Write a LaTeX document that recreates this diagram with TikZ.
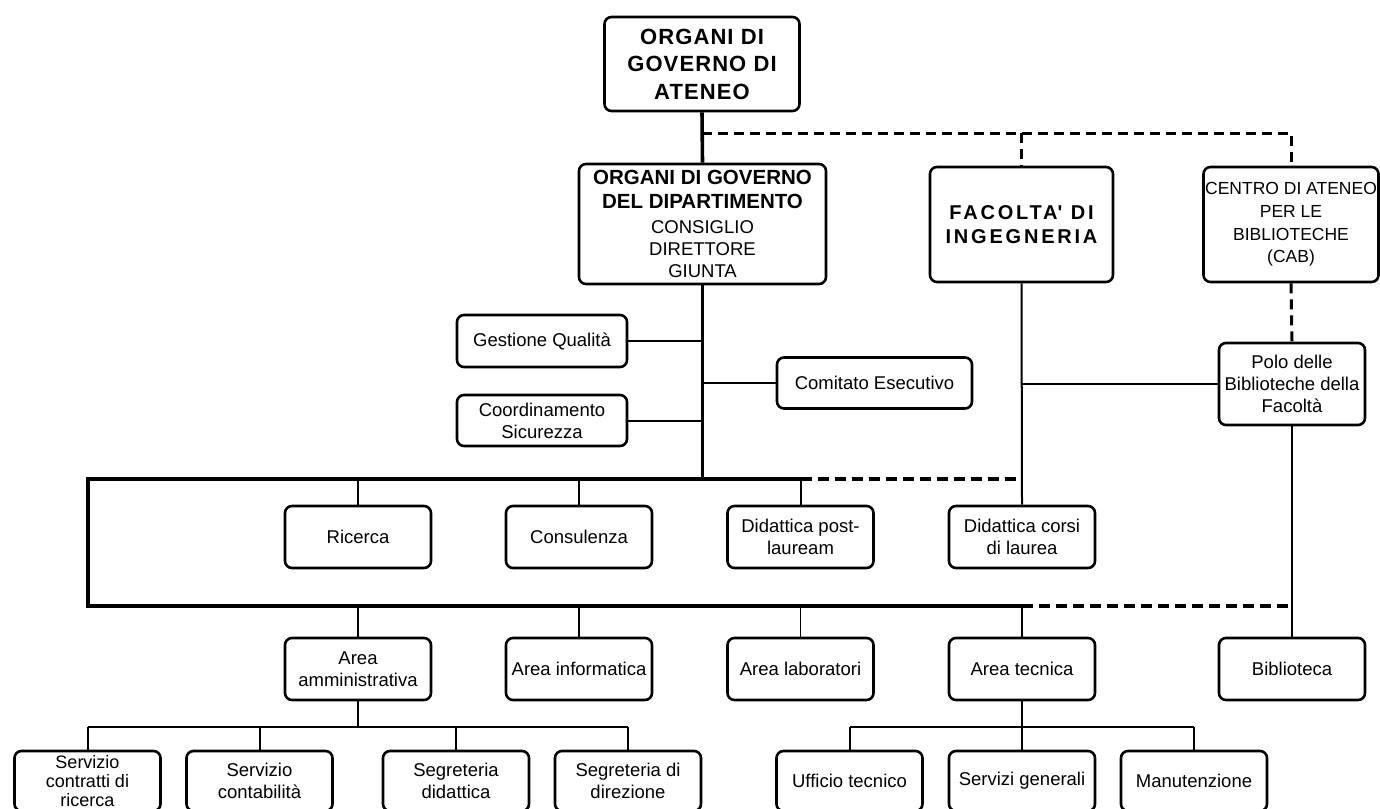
\documentclass[tikz,border=0pt]{standalone}
\usepackage{fontspec}
\setmainfont{Liberation Sans}
\newfontfamily\spacedA[LetterSpace=5]{Liberation Sans}
\newfontfamily\spacedB[LetterSpace=14]{Liberation Sans}
\begin{document}
\begin{tikzpicture}[x=1pt,y=-1pt,
  box/.style={draw, line width=2.6pt, rounded corners=7pt, align=center, inner sep=0pt,
              font=\fontsize{18.5}{22}\selectfont},
  small/.style={box, minimum width=146pt, minimum height=62pt},
  leaf/.style={box, minimum width=146pt, minimum height=60pt},
  conn/.style={line width=2pt},
  trunk/.style={line width=3.6pt},
  railline/.style={line width=4pt, line join=miter},
  dashline/.style={line width=3pt, dash pattern=on 10pt off 6pt},
  raildash/.style={line width=4pt, dash pattern=on 11pt off 6pt},
]
\useasboundingbox (0,0) rectangle (1380,808);
\fill[white] (0,0) rectangle (1380,808);
\clip (0,0) rectangle (1380,808);

% top level
\node[box, minimum width=195pt, minimum height=94pt,
      font=\spacedA\bfseries\fontsize{22}{27.5}\selectfont] (ateneo) at (702,64)
      {ORGANI DI\\GOVERNO DI\\ATENEO};
\node[box, minimum width=247pt, minimum height=120pt] (dip) at (702.5,224)
      {{\bfseries\fontsize{20.5}{24}\selectfont ORGANI DI GOVERNO}\\[2pt]
       {\bfseries\fontsize{20.5}{24}\selectfont DEL DIPARTIMENTO}\\[3pt]
       CONSIGLIO\\DIRETTORE\\GIUNTA};
\node[box, minimum width=183pt, minimum height=115pt,
      font=\spacedB\bfseries\fontsize{20}{24}\selectfont] (fac) at (1021.5,224.5)
      {FACOLTA\textquotesingle{} DI\\INGEGNERIA};
\node[box, minimum width=175pt, minimum height=115pt,
      font=\fontsize{17.5}{22.6}\selectfont] (cab) at (1291,224.5)
      {CENTRO DI ATENEO\\PER LE\\BIBLIOTECHE\\(CAB)};

% staff boxes
\node[box, minimum width=170pt, minimum height=52pt] (gq) at (542,341) {Gestione Qualità};
\node[box, minimum width=170pt, minimum height=51pt] (cs) at (542,420.5) {Coordinamento\\Sicurezza};
\node[box, minimum width=195pt, minimum height=51pt] (ce) at (874.5,383) {Comitato Esecutivo};
\node[box, minimum width=146pt, minimum height=82pt] (polo) at (1292,384)
      {Polo delle\\Biblioteche della\\Facoltà};

% activities
\node[small] (ric)  at (358,537)   {Ricerca};
\node[small] (cons) at (579,537)   {Consulenza};
\node[small] (dpl)  at (800.5,537) {Didattica post-\\lauream};
\node[small] (dcl)  at (1022,537)  {Didattica corsi\\di laurea};

% areas
\node[small] (aamm) at (358,669)   {Area\\amministrativa};
\node[small] (ainf) at (579,669)   {Area informatica};
\node[small] (alab) at (800.5,669) {Area laboratori};
\node[small] (atec) at (1022,669)  {Area tecnica};
\node[small] (bib)  at (1292,669)  {Biblioteca};

% services
\node[leaf, font=\fontsize{18}{19}\selectfont] (sc) at (87.5,781) {Servizio\\contratti di\\ricerca};
\node[leaf] (scont) at (259.5,781) {Servizio\\contabilità};
\node[leaf] (sd)    at (456,781)   {Segreteria\\didattica};
\node[leaf] (sdir)  at (628,781)   {Segreteria di\\direzione};
\node[leaf] (uff)   at (849.5,781) {Ufficio tecnico};
\node[leaf] (sg)    at (1022,781)  {Servizi generali};
\node[leaf] (man)   at (1194,781)  {Manutenzione};

% coordinates for rails
\coordinate (j0) at (702,133);
\coordinate (tl) at (88,479);
\coordinate (bl) at (88,606);
\coordinate (ra) at (0,727);

% top connectors
\draw[trunk] (ateneo.south) -- (dip.north);
\draw[dashline] (j0) -- (cab.north |- j0) -- (cab.north);
\draw[dashline] (fac.north |- j0) -- (fac.north);
\draw[dashline] (cab.south) -- (polo.north);

% trunk of department
\draw[trunk] (dip.south) -- (dip.south |- tl);
\draw[conn] (gq.east) -- (gq.east -| dip.south);
\draw[conn] (cs.east) -- (cs.east -| dip.south);
\draw[conn] (ce.west -| dip.south) -- (ce.west);

% faculty line
\draw[conn] (fac.south) -- (dcl.north);
\draw[conn] (fac.south |- polo.west) -- (polo.west);
\draw[conn] (polo.south) -- (bib.north);

% big frame
\draw[railline] (dpl.north |- tl) -- (tl) -- (bl) -- (atec.north |- bl);
\draw[raildash] (dpl.north |- tl) -- (dcl.north |- tl);
\draw[raildash] (atec.north |- bl) -- (bib.north |- bl);

\foreach \n in {ric,cons,dpl} \draw[conn] (\n.north |- tl) -- (\n.north);
\foreach \n in {aamm,ainf,atec} \draw[conn] (\n.north |- bl) -- (\n.north);
\draw[line width=1.5pt] (alab.north |- bl) -- (alab.north);

% administrative area
\draw[conn] (aamm.south) -- (aamm.south |- ra);
\draw[line width=2.4pt] (sc.north |- ra) -- (sdir.north |- ra);
\foreach \n in {sc,scont,sd,sdir} \draw[conn] (\n.north |- ra) -- (\n.north);

% technical area
\draw[conn] (atec.south) -- (atec.south |- ra);
\draw[line width=2.4pt] (uff.north |- ra) -- (man.north |- ra);
\foreach \n in {uff,sg,man} \draw[conn] (\n.north |- ra) -- (\n.north);
\end{tikzpicture}
\end{document}
